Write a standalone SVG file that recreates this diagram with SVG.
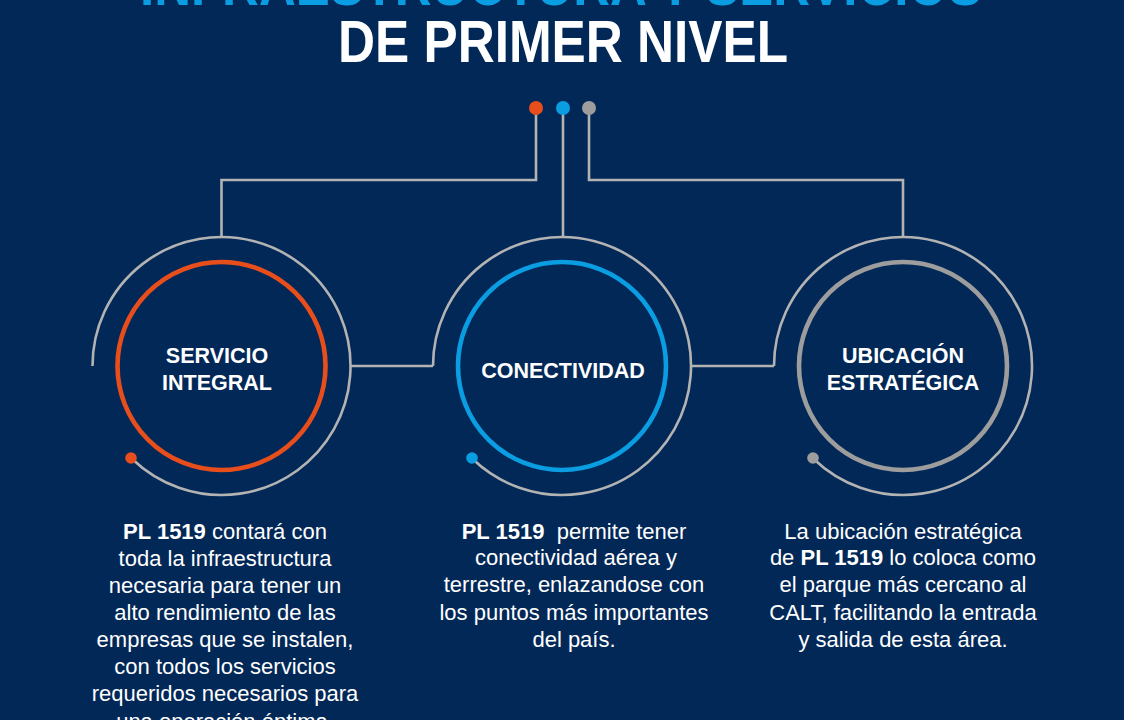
<svg xmlns="http://www.w3.org/2000/svg" width="1124" height="720" viewBox="0 0 1124 720">
<style>
.bg{fill:#022857}
.title{font-family:"Liberation Sans",Arial,sans-serif;font-weight:bold;font-size:60px;text-anchor:middle}
.wire{fill:none;stroke:#b3b3b3;stroke-width:2.6}
.ring{fill:none;stroke-width:4.6}
.lbl{font-family:"Liberation Sans",Arial,sans-serif;font-weight:bold;font-size:21.5px;fill:#fff;text-anchor:middle}
.desc{font-family:"Liberation Sans",Arial,sans-serif;font-size:22px;fill:#fff;text-anchor:middle}
.b{font-weight:bold}
</style>
<rect class="bg" x="0" y="0" width="1124" height="720"/>
<g id="title">
<text class="title" x="561" y="5" fill="#0a9de2" textLength="842" lengthAdjust="spacingAndGlyphs">INFRAESTRUCTURA Y SERVICIOS</text>
<text class="title" x="563" y="62" fill="#ffffff" textLength="450" lengthAdjust="spacingAndGlyphs">DE PRIMER NIVEL</text>
</g>
<g id="connectors">
<path class="wire" d="M536,114 V180 H221.5 V237"/>
<path class="wire" d="M563,114 V237"/>
<path class="wire" d="M589,114 V180 H903 V237"/>
<path class="wire" d="M350.5,366 H433"/>
<path class="wire" d="M691,366 H774"/>
<circle cx="536" cy="108" r="7" fill="#e84e1b"/>
<circle cx="563" cy="108" r="7" fill="#0a9de2"/>
<circle cx="589" cy="108" r="7" fill="#9d9d9d"/>
</g>
<g id="node-servicio">
<path class="wire" d="M92.5,366 A129,129 0 1 1 131.9,458.8"/>
<circle cx="221.5" cy="366" r="104" class="ring" stroke="#e84e1b"/>
<circle cx="131" cy="458" r="5.8" fill="#e84e1b"/>
<text class="lbl" x="217" y="362.5">SERVICIO</text>
<text class="lbl" x="217" y="390">INTEGRAL</text>
</g>
<g id="node-conectividad">
<path class="wire" d="M433,366 A129,129 0 1 1 472.4,458.8"/>
<circle cx="562" cy="366" r="104" class="ring" stroke="#0a9de2"/>
<circle cx="472" cy="458" r="5.8" fill="#0a9de2"/>
<text class="lbl" x="563" y="378">CONECTIVIDAD</text>
</g>
<g id="node-ubicacion">
<path class="wire" d="M774,366 A129,129 0 1 1 813.4,458.8"/>
<circle cx="903" cy="366" r="104" class="ring" stroke="#9d9d9d" stroke-width="5.4"/>
<circle cx="813" cy="458" r="5.8" fill="#9d9d9d"/>
<text class="lbl" x="903" y="362.5">UBICACIÓN</text>
<text class="lbl" x="903" y="389.5">ESTRATÉGICA</text>
</g>
<g id="desc-servicio">
<text class="desc" x="225" y="539"><tspan class="b">PL 1519</tspan> contará con</text>
<text class="desc" x="225" y="566">toda la infraestructura</text>
<text class="desc" x="225" y="593">necesaria para tener un</text>
<text class="desc" x="225" y="620">alto rendimiento de las</text>
<text class="desc" x="225" y="647">empresas que se instalen,</text>
<text class="desc" x="225" y="674">con todos los servicios</text>
<text class="desc" x="225" y="701">requeridos necesarios para</text>
<text class="desc" x="225" y="729">una operación óptima.</text>
</g>
<g id="desc-conectividad">
<text class="desc" x="574" y="538.5"><tspan class="b">PL 1519</tspan>&#160; permite tener</text>
<text class="desc" x="576" y="565">conectividad aérea y</text>
<text class="desc" x="574" y="592">terrestre, enlazandose con</text>
<text class="desc" x="574" y="619.5">los puntos más importantes</text>
<text class="desc" x="574" y="646.5">del país.</text>
</g>
<g id="desc-ubicacion">
<text class="desc" x="903" y="538.5">La ubicación estratégica</text>
<text class="desc" x="903" y="565">de <tspan class="b">PL 1519</tspan> lo coloca como</text>
<text class="desc" x="903" y="592">el parque más cercano al</text>
<text class="desc" x="903" y="619.5">CALT, facilitando la entrada</text>
<text class="desc" x="903" y="646.5">y salida de esta área.</text>
</g>
</svg>
